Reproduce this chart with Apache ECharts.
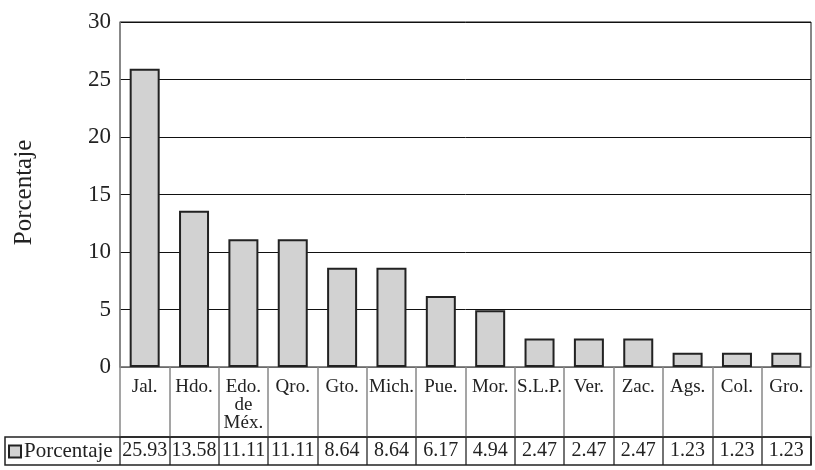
<!DOCTYPE html>
<html>
<head>
<meta charset="utf-8">
<script src="https://cdn.jsdelivr.net/npm/echarts@6/dist/echarts.min.js"></script>
<style>html,body{margin:0;padding:0;background:#fff}#c{width:815px;height:470px}</style>
</head>
<body>
<div id="c"></div>
<script>
var categories = ['Jal.', 'Hdo.', 'Edo.\nde\nMéx.', 'Qro.', 'Gto.', 'Mich.', 'Pue.', 'Mor.', 'S.L.P.', 'Ver.', 'Zac.', 'Ags.', 'Col.', 'Gro.'];
var values = [25.93, 13.58, 11.11, 11.11, 8.64, 8.64, 6.17, 4.94, 2.47, 2.47, 2.47, 1.23, 1.23, 1.23];
var seriesName = 'Porcentaje';
var yTicks = {min: 0, max: 30, interval: 5};

var F = '"Liberation Serif", "DejaVu Serif", serif';
var chart = echarts.init(document.getElementById('c'));
chart.setOption({
  animation: false,
  textStyle: {fontFamily: F},
  grid: {left: 120, right: 4, top: 22, bottom: 103, show: true, borderColor: '#111', borderWidth: 1},
  legend: {
    data: [seriesName], left: 8, top: 441, padding: 0, icon: 'rect', itemWidth: 12, itemHeight: 12, itemGap: 4,
    textStyle: {fontFamily: F, fontSize: 21, color: '#222', padding: [0, 0, 0, -2]}
  },
  xAxis: [{
    type: 'category', data: categories, position: 'bottom',
    axisLine: {lineStyle: {color: '#888', width: 1.5}},
    axisTick: {show: true, length: 70, lineStyle: {color: '#888', width: 1.5}},
    axisLabel: {interval: 0, fontSize: 19, lineHeight: 18, color: '#222', margin: 11, verticalAlign: 'top', fontFamily: F}
  }, {
    type: 'category', data: values.map(function (v) { return v.toFixed(2); }), position: 'bottom', offset: 70,
    axisLine: {lineStyle: {color: '#222', width: 1.5}},
    axisTick: {show: true, length: 28, lineStyle: {color: '#444', width: 1.5}},
    axisLabel: {interval: 0, fontSize: 20, color: '#222', margin: 14, verticalAlign: 'middle', fontFamily: F}
  }],
  yAxis: {
    type: 'value', min: yTicks.min, max: yTicks.max, interval: yTicks.interval,
    name: 'Porcentaje', nameLocation: 'middle', nameGap: 83, nameRotate: 90,
    nameTextStyle: {fontSize: 25, color: '#222', fontFamily: F, padding: [0, 0, 0, 4]},
    axisLine: {show: true, lineStyle: {color: '#888', width: 1.5}},
    axisTick: {show: false},
    axisLabel: {fontSize: 23, color: '#222', margin: 9, fontFamily: F},
    splitLine: {lineStyle: {color: '#111', width: 1}}
  },
  series: [{
    name: seriesName, type: 'bar', data: values, xAxisIndex: 0, barWidth: 30,
    itemStyle: {color: '#d2d2d2', borderColor: '#222', borderWidth: 2}
  }],
  graphic: [{
    type: 'rect', shape: {x: 5, y: 437, width: 806, height: 28},
    style: {fill: 'none', stroke: '#222', lineWidth: 1.5}, z: 100
  }]
});
</script>
</body>
</html>
